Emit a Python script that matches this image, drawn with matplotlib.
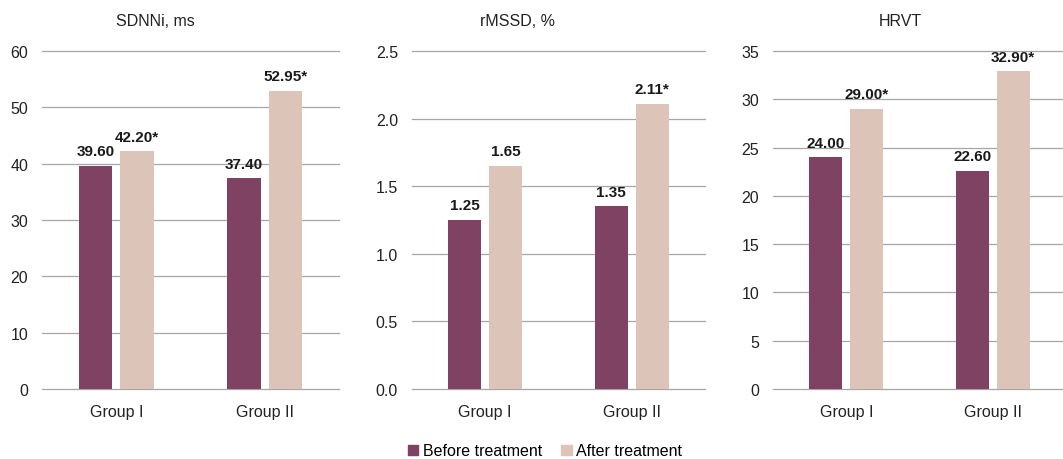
import matplotlib
matplotlib.use("Agg")
import matplotlib.pyplot as plt
import numpy as np
from matplotlib.patches import Patch

plt.rcParams['font.family'] = ['Liberation Sans', 'DejaVu Sans']

groups = ["Group I", "Group II"]
titles = ["SDNNi, ms", "rMSSD, %", "HRVT"]
before = [[39.60, 37.40], [1.25, 1.35], [24.00, 22.60]]
after = [[42.20, 52.95], [1.65, 2.11], [29.00, 32.90]]
before_labels = [["39.60", "37.40"], ["1.25", "1.35"], ["24.00", "22.60"]]
after_labels = [["42.20*", "52.95*"], ["1.65", "2.11*"], ["29.00*", "32.90*"]]
yticks = [[0, 10, 20, 30, 40, 50, 60],
          [0.0, 0.5, 1.0, 1.5, 2.0, 2.5],
          [0, 5, 10, 15, 20, 25, 30, 35]]
ytick_labels = [["0", "10", "20", "30", "40", "50", "60"],
                ["0.0", "0.5", "1.0", "1.5", "2.0", "2.5"],
                ["0", "5", "10", "15", "20", "25", "30", "35"]]

c_before = "#7F4262"
c_after = "#DCC4B9"
grid_c = "#A6A6A6"

W, H = 1063, 460
fig = plt.figure(figsize=(W / 100, H / 100), dpi=100)

ext = [(42, 339), (412, 705), (773, 1066)]
top_px, bot_px = 52, 390
title_x = [155, 517, 900]

bw = 0.225
off = 0.14
x = np.arange(len(groups))

for i in range(3):
    l, r = ext[i]
    ax = fig.add_axes([l / W, 1 - bot_px / H, (r - l) / W, (bot_px - top_px) / H])
    ax.set_xlim(-0.5, len(groups) - 0.5)
    ax.set_ylim(yticks[i][0], yticks[i][-1])
    ax.set_yticks(yticks[i])
    ax.set_yticklabels(ytick_labels[i])
    for yv in yticks[i]:
        ax.axhline(yv, color=grid_c, linewidth=0.9, clip_on=False, zorder=1)
    for s in ax.spines.values():
        s.set_visible(False)
    ax.tick_params(axis='y', length=0, pad=10, labelsize=11.5, colors="#222222")
    ax.tick_params(axis='x', length=0, pad=11, labelsize=11.5, colors="#222222")
    ax.set_xticks(x)
    ax.set_xticklabels(groups)
    b1 = ax.bar(x - off, before[i], width=bw, color=c_before, zorder=2)
    b2 = ax.bar(x + off, after[i], width=bw, color=c_after, zorder=2)
    for bars, labs in ((b1, before_labels[i]), (b2, after_labels[i])):
        for rect, lab in zip(bars, labs):
            ax.annotate(lab, (rect.get_x() + rect.get_width() / 2, rect.get_height()),
                        xytext=(0, 5.5), textcoords="offset points", ha="center",
                        va="bottom", fontsize=11, fontweight="bold", color="#1a1a1a",
                        annotation_clip=False)
    fig.text(title_x[i] / W, 1 - 22 / H, titles[i], ha="center", va="center",
             fontsize=11.5, color="#222222")

handles = [Patch(color=c_before, label="Before treatment"),
           Patch(color=c_after, label="After treatment")]
fig.legend(handles=handles, loc="center", bbox_to_anchor=(545 / W, 1 - 452 / H),
           ncol=2, frameon=False, fontsize=11.5, handlelength=0.65, handleheight=0.65,
           handletextpad=0.3, columnspacing=1.2, borderaxespad=0, borderpad=0)

fig.savefig("out.png", dpi=100)
